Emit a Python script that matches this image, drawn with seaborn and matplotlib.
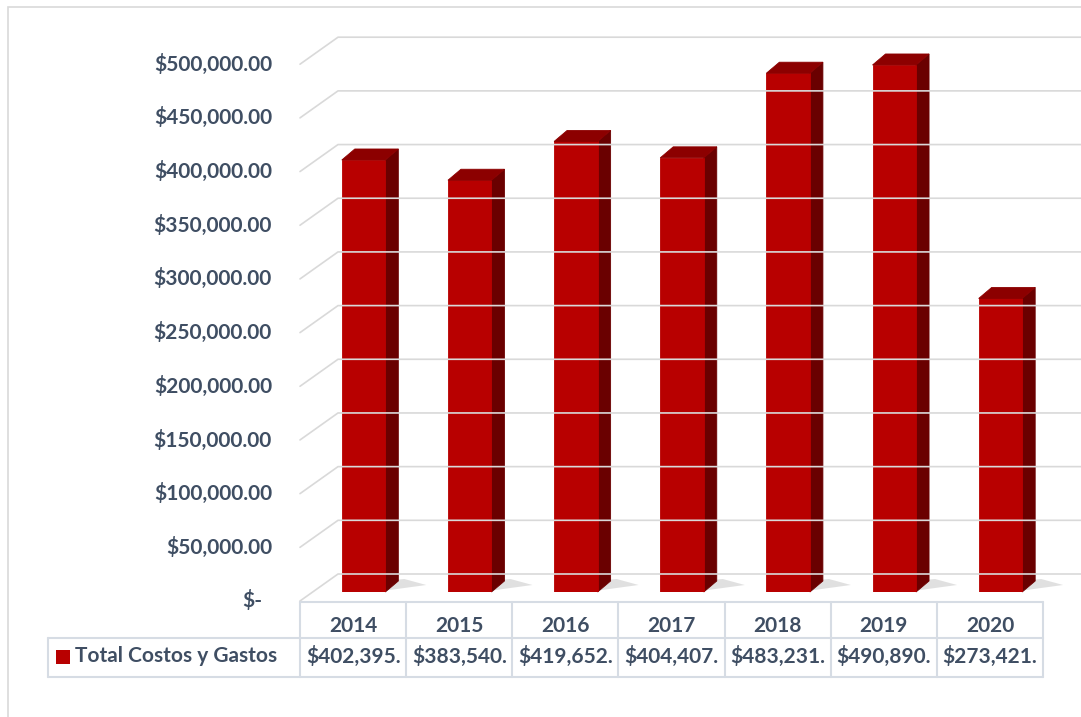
import matplotlib
matplotlib.use("Agg")
import matplotlib.pyplot as plt
import seaborn as sns
from matplotlib.patches import Polygon, Rectangle
from matplotlib.lines import Line2D

# --- datos ---
years = ["2014", "2015", "2016", "2017", "2018", "2019", "2020"]
totals = [402395, 383540, 419652, 404407, 483231, 490890, 273421]
table_labels = ["$402,395.", "$383,540.", "$419,652.", "$404,407.",
                "$483,231.", "$490,890.", "$273,421."]
tick_values = [0, 50000, 100000, 150000, 200000, 250000, 300000, 350000, 400000, 450000, 500000]
tick_labels = ["$-", "$50,000.00", "$100,000.00", "$150,000.00", "$200,000.00", "$250,000.00",
               "$300,000.00", "$350,000.00", "$400,000.00", "$450,000.00", "$500,000.00"]
series_name = "Total Costos y Gastos"

W, H = 1081, 717
RED, TOP, SIDE = "#B80000", "#8C0000", "#6A0000"
TXT = "#3F4E63"
GRID = "#D9D9D9"
BORDER = "#D6DCE4"
FS = 15

sns.set_theme(style="white")
plt.rcParams["font.family"] = ["Lato", "DejaVu Sans"]

fig = plt.figure(figsize=(W / 100, H / 100), dpi=100)
# plano de las barras (en px desde arriba): x 310.5-1053.5, y 0 -> 592, 500k -> 55.2
ax = fig.add_axes([310.5 / W, (H - 592) / H, 743 / W, (592 - 55.2) / H])
ax.set_xlim(-0.5, 6.5)
ax.set_ylim(0, 500000)
ax.axis("off")

sns.barplot(x=years, y=totals, color=RED, width=0.41, saturation=1, ax=ax,
            zorder=3, linewidth=0.6, edgecolor=RED)
fig.canvas.draw()

def disp(x, y):
    return ax.transData.transform((x, y))

# marco del grafico
fig.patches.append(Rectangle((8, -20), 1200, H - 7 + 20, transform=None,
                             fill=False, edgecolor="#D9D9D9", lw=1.2))

# lineas de cuadricula (plano frontal desplazado, pared trasera)
gdx, gdy = -10.5, -9
bdx, bdy = 38, 27
for v, lab in zip(tick_values, tick_labels):
    x0, y0 = disp(-0.5, v)
    fx, fy = x0 + gdx, y0 + gdy
    fig.lines.append(Line2D([fx, fx + bdx, W + 5], [fy, fy + bdy, fy + bdy],
                            transform=None, color=GRID, lw=1.2, zorder=1))
    fig.text(272 if v else 262, fy, lab, transform=None, ha="right", va="center",
             fontsize=FS, fontweight="bold", color=TXT)

# caras laterales y superiores de las barras
ddx, ddy = 13, 11
for p in ax.patches:
    x, w, h = p.get_x(), p.get_width(), p.get_height()
    br = disp(x + w, 0)
    tl = disp(x, h)
    tr = disp(x + w, h)
    shadow = Polygon([(br[0] - 3, br[1] + 1), (br[0] + ddx + 28, br[1] + 7),
                      (br[0] + ddx + 6, br[1] + ddy + 2), (br[0] - 3, br[1] + ddy)],
                     closed=True, transform=None, facecolor="#A8A8A8", alpha=0.35,
                     edgecolor="none", zorder=2)
    side = Polygon([br, tr, (tr[0] + ddx, tr[1] + ddy), (br[0] + ddx, br[1] + ddy)],
                   closed=True, transform=None, facecolor=SIDE, edgecolor=SIDE,
                   lw=0.6, zorder=2.5)
    top = Polygon([tl, tr, (tr[0] + ddx, tr[1] + ddy), (tl[0] + ddx, tl[1] + ddy)],
                  closed=True, transform=None, facecolor=TOP, edgecolor=TOP,
                  lw=0.6, zorder=4)
    for art in (shadow, side, top):
        art.set_clip_on(False)
        ax.add_artist(art)

# tabla de datos
row_top, row_mid, row_bot = H - 602, H - 638, H - 677
edges = [disp(i - 0.5, 0)[0] + gdx for i in range(len(years) + 1)]
for e in edges:
    fig.lines.append(Line2D([e, e], [row_bot, row_top], transform=None, color=BORDER, lw=1.5))
fig.lines.append(Line2D([edges[0], edges[-1]], [row_top, row_top], transform=None, color=BORDER, lw=1.5))
fig.lines.append(Line2D([48, edges[-1]], [row_mid, row_mid], transform=None, color=BORDER, lw=1.5))
fig.lines.append(Line2D([48, edges[-1]], [row_bot, row_bot], transform=None, color=BORDER, lw=1.5))
fig.lines.append(Line2D([48, 48], [row_bot, row_mid], transform=None, color=BORDER, lw=1.5))

for i, (yr, lab) in enumerate(zip(years, table_labels)):
    cx = (edges[i] + edges[i + 1]) / 2
    fig.text(cx, H - 626, yr, transform=None, ha="center", va="center",
             fontsize=FS, fontweight="bold", color=TXT)
    fig.text(cx, H - 656, lab, transform=None, ha="center", va="center",
             fontsize=FS, fontweight="bold", color=TXT)

fig.patches.append(Rectangle((56, H - 664), 14, 14, transform=None, facecolor=RED, edgecolor="none"))
fig.text(75, H - 656, series_name, transform=None, ha="left", va="center",
         fontsize=FS, fontweight="bold", color=TXT)

fig.savefig("out.png", dpi=100)
